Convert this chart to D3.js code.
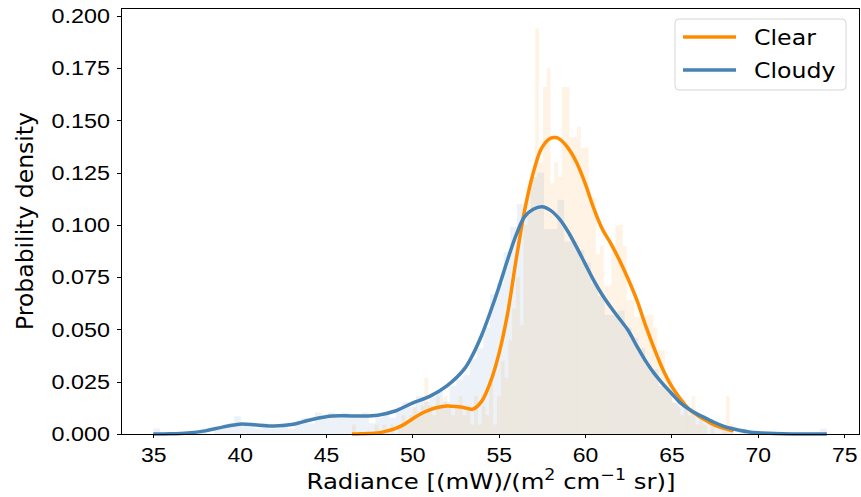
<!DOCTYPE html>
<html lang="en">
<head>
  <meta charset="utf-8">
  <title>Radiance density</title>
  <script src="https://d3js.org/d3.v7.min.js"></script>
  <style>
    body { margin: 0; background: #fff; }
    svg { font-family: "DejaVu Sans", sans-serif; }
    .axis line { stroke: #000; stroke-width: 1; shape-rendering: crispEdges; }
    .axis text { font-size: 20.5px; fill: #000; }
    .kde { fill: none; stroke-width: 3.5; stroke-linejoin: round; stroke-linecap: butt; }
  </style>
</head>
<body>
<div id="chart"></div>
<script>
// ---- data ----
var xTicks = [35, 40, 45, 50, 55, 60, 65, 70, 75];
var yTicks = [0, 0.025, 0.05, 0.075, 0.1, 0.125, 0.15, 0.175, 0.2];
var seriesNames = ["Clear", "Cloudy"];
var seriesColors = ["#ff8c00", "#4682b4"];

// histograms (density, 100 bins each)
var clearBinStart = 46.5, clearBinWidth = 0.221;
var clearHist = [
  0.0045,0,0,0,0,0,0.0045,0,0.0045,0,
  0.0045,0,0.0045,0.009,0.0045,0.009,0.0136,0.009,0.0136,0.027,
  0.0136,0.009,0.018,0.0136,0.018,0.0136,0.009,0.0136,0.018,0.009,
  0.0136,0.0045,0.018,0.0045,0.0136,0.009,0.027,0.0045,0.018,0.035,
  0.027,0.045,0.06,0.075,0.052,0.1,0.118,0.123,0.194,0.13,
  0.166,0.175,0.12,0.13,0.123,0.166,0.166,0.142,0.142,0.147,
  0.137,0.137,0.113,0.113,0.086,0.09,0.071,0.071,0.09,0.1,
  0.1,0.09,0.064,0.064,0.056,0.056,0.056,0.057,0.057,0.051,
  0.04,0.04,0.027,0.027,0.015,0.0136,0.009,0.0136,0.009,0.018,
  0.0045,0.009,0.0045,0,0.0045,0,0,0.0045,0.018,0.0045
];
var cloudyBinStart = 35.0, cloudyBinWidth = 0.39;
var cloudyHist = [
  0.0026,0,0,0,0,0,0,0.0026,0,0.0026,
  0.0026,0.0051,0.0085,0.0051,0.0051,0.0026,0.0051,0.0026,0.0026,0.0051,
  0.0026,0.0051,0.0077,0.0051,0.0103,0.0077,0.0103,0.0077,0.0103,0.0077,
  0.0077,0.0103,0.0051,0.0077,0.0103,0.0077,0.0128,0.0154,0.0128,0.018,
  0.0154,0.018,0.0205,0.0154,0.023,0.026,0.0282,0.036,0.041,0.051,
  0.067,0.072,0.087,0.099,0.110,0.105,0.123,0.125,0.098,0.098,
  0.112,0.092,0.092,0.088,0.082,0.072,0.066,0.057,0.057,0.059,
  0.051,0.046,0.041,0.033,0.031,0.023,0.021,0.015,0.013,0.0128,
  0.0103,0.0077,0.0051,0.0051,0.0026,0.0026,0,0.0026,0,0,
  0,0,0,0,0,0,0,0,0,0.0026
];

// density curves [x, density]
var clearKde = [
  [46.5,0],[47,0.0001],[47.5,0.0002],[48,0.0005],[48.5,0.0014],[49,0.0026],[49.5,0.0045],
  [50,0.0072],[50.5,0.0097],[51,0.0115],[51.5,0.0128],[52,0.0134],[52.5,0.0132],[53,0.0126],
  [53.5,0.0119],[54,0.0155],[54.5,0.0244],[55,0.038],[55.5,0.057],[56,0.083],[56.5,0.107],
  [57,0.125],[57.5,0.137],[58,0.1415],[58.3,0.1418],[58.5,0.1412],[59,0.137],[59.5,0.130],
  [60,0.12],[60.5,0.108],[61,0.098],[61.5,0.091],[62,0.083],[62.5,0.074],[63,0.064],
  [63.5,0.052],[64,0.041],[64.5,0.031],[65,0.023],[65.5,0.017],[66,0.012],[66.5,0.009],
  [67,0.0065],[67.5,0.0042],[68,0.0028],[68.6,0.0015]
];
var cloudyKde = [
  [35,0],[36,0.0001],[37,0.0005],[38,0.0015],[39,0.0033],[40,0.0047],[41,0.0043],[42,0.0038],
  [43,0.0045],[44,0.0066],[45,0.0083],[46,0.0087],[47,0.0086],[48,0.009],[49,0.011],[50,0.0148],
  [51,0.018],[52,0.023],[53,0.031],[53.5,0.038],[54,0.047],[54.5,0.058],[55,0.07],[55.5,0.083],
  [56,0.095],[56.5,0.104],[57,0.1075],[57.5,0.1087],[58,0.107],[58.5,0.103],[59,0.097],
  [59.5,0.0895],[60,0.0815],[60.5,0.0735],[61,0.0665],[61.5,0.0605],[62,0.055],[62.5,0.0495],
  [63,0.042],[63.5,0.035],[64,0.029],[64.5,0.024],[65,0.0195],[65.5,0.015],[66,0.012],
  [66.5,0.0095],[67,0.0075],[67.5,0.0055],[68,0.0038],[68.5,0.0026],[69,0.0017],[69.5,0.001],
  [70,0.0006],[71,0.0002],[72,0.00005],[74,0]
];

// ---- layout ----
var W = 861, H = 497;
var mLeft = 121, mRight = 859, mTop = 8, mBottom = 434;

var svg = d3.select("#chart").append("svg")
  .attr("width", W)
  .attr("height", H);

var x = d3.scaleLinear().domain([33.13, 75.86]).range([mLeft, mRight]);
var y = d3.scaleLinear().domain([0, 0.2038]).range([mBottom, mTop]);

// text in the reference is a bit wider than plain DejaVu: stretch it
function widen(sel, k) {
  sel.each(function () {
    var w = this.getComputedTextLength();
    d3.select(this).attr("textLength", w * k).attr("lengthAdjust", "spacingAndGlyphs");
  });
}

// histograms
function drawHist(vals, start, width, color) {
  svg.append("g")
    .selectAll("rect")
    .data(vals)
    .join("rect")
    .attr("x", function (d, i) { return x(start + i * width); })
    .attr("width", function (d, i) { return x(start + (i + 1) * width) - x(start + i * width); })
    .attr("y", function (d) { return y(d); })
    .attr("height", function (d) { return y(0) - y(d); })
    .attr("fill", color)
    .attr("fill-opacity", 0.1);
}
drawHist(clearHist, clearBinStart, clearBinWidth, seriesColors[0]);
drawHist(cloudyHist, cloudyBinStart, cloudyBinWidth, seriesColors[1]);

// curves
var line = d3.line()
  .x(function (d) { return x(d[0]); })
  .y(function (d) { return y(d[1]); })
  .curve(d3.curveCatmullRom.alpha(0.5));

[clearKde, cloudyKde].forEach(function (pts, k) {
  svg.append("path")
    .attr("class", "kde")
    .attr("stroke", seriesColors[k])
    .attr("d", line(pts));
});

// spines
svg.append("rect")
  .attr("x", mLeft).attr("y", mTop)
  .attr("width", mRight - mLeft).attr("height", mBottom - mTop)
  .attr("fill", "none").attr("stroke", "#000").attr("stroke-width", 1)
  .attr("shape-rendering", "crispEdges");

// axes
var gx = svg.append("g")
  .attr("class", "axis")
  .attr("transform", "translate(0," + mBottom + ")")
  .call(d3.axisBottom(x).tickValues(xTicks).tickSize(4).tickPadding(9).tickFormat(d3.format("d")));
gx.select(".domain").remove();
gx.selectAll("text").call(widen, 1.12);

var gy = svg.append("g")
  .attr("class", "axis")
  .attr("transform", "translate(" + mLeft + ",0)")
  .call(d3.axisLeft(y).tickValues(yTicks).tickSize(4).tickPadding(7).tickFormat(d3.format(".3f")));
gy.select(".domain").remove();
gy.selectAll("text").call(widen, 1.14);

// axis labels
var xl = svg.append("text")
  .attr("x", (mLeft + mRight) / 2 + 1)
  .attr("y", 489)
  .attr("text-anchor", "middle")
  .style("font-size", "21px");
xl.append("tspan").text("Radiance [(mW)/(m");
xl.append("tspan").attr("baseline-shift", "super").style("font-size", "15px").text("2");
xl.append("tspan").text(" cm");
xl.append("tspan").attr("baseline-shift", "super").style("font-size", "15px").text("\u22121");
xl.append("tspan").text(" sr)]");
xl.attr("textLength", 369).attr("lengthAdjust", "spacingAndGlyphs");

svg.append("text")
  .attr("transform", "translate(33," + (mTop + mBottom) / 2 + ") rotate(-90)")
  .attr("text-anchor", "middle")
  .style("font-size", "23.5px")
  .text("Probability density");

// legend
var lg = svg.append("g");
lg.append("rect")
  .attr("x", 675).attr("y", 19)
  .attr("width", 171).attr("height", 71)
  .attr("rx", 4)
  .attr("fill", "#fff").attr("fill-opacity", 0.8)
  .attr("stroke", "#d6d6d6").attr("stroke-width", 1);

seriesNames.forEach(function (name, i) {
  var yy = 37 + i * 33;
  lg.append("line")
    .attr("x1", 683).attr("x2", 736)
    .attr("y1", yy).attr("y2", yy)
    .attr("stroke", seriesColors[i]).attr("stroke-width", 3.5);
  lg.append("text")
    .attr("x", 754).attr("y", yy + 8)
    .style("font-size", "21.5px")
    .text(name)
    .call(widen, 1.1);
});
</script>
</body>
</html>
